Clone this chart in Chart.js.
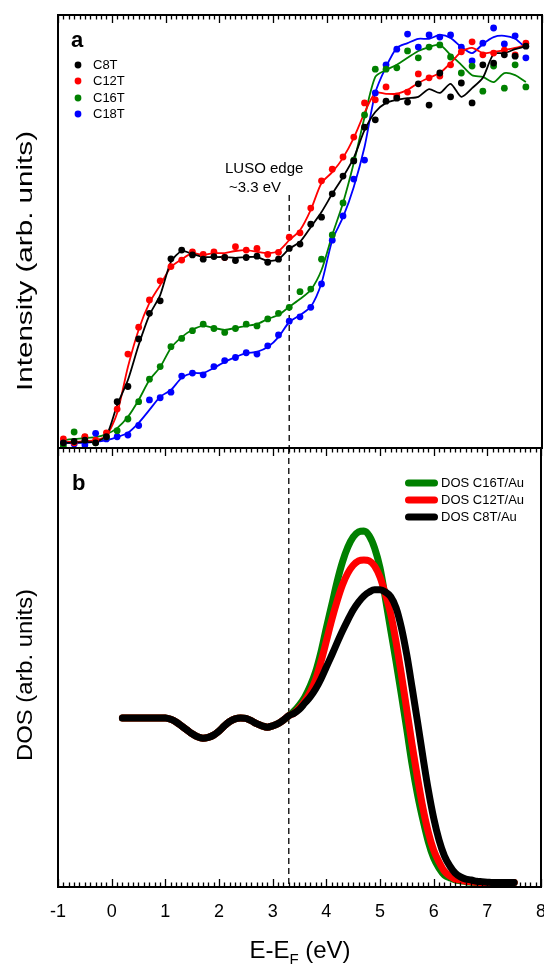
<!DOCTYPE html>
<html><head><meta charset="utf-8">
<script src="https://cdn.jsdelivr.net/npm/chart.js@4.4.1/dist/chart.umd.min.js"></script>
<style>
html,body{margin:0;padding:0;background:#fff;overflow:hidden;width:544px;height:964px;}
#wrap{position:relative;width:544px;height:964px;overflow:hidden;background:#fff;}
canvas{position:absolute;left:0;}
#ca{top:0;}
#cb{top:440px;}
</style></head><body>
<div id="wrap"><canvas id="ca" width="560" height="460"></canvas><canvas id="cb" width="560" height="524"></canvas></div>
<script>
// ---------------- DATA ----------------
// Panel a: photoemission intensity (arb. units, 0-100)
const energyA = [-0.9,-0.7,-0.5,-0.3,-0.1,0.1,0.3,0.5,0.7,0.9,1.1,1.3,1.5,1.7,1.9,2.1,2.3,2.5,2.7,2.9,3.1,3.3,3.5,3.7,3.9,4.1,4.3,4.5,4.7,4.9,5.1,5.3,5.5,5.7,5.9,6.1,6.3,6.5,6.7,6.9,7.1,7.3,7.5,7.7];
const c8Pts  = [1.2,1.5,1.8,1.2,2.6,10.7,14.2,25.2,31.1,34.0,43.7,45.7,44.6,43.6,44.2,44.0,43.3,44.0,44.3,42.9,43.6,46.1,47.1,51.7,53.3,58.7,62.8,66.3,74.1,75.8,80.1,80.8,79.9,84.1,79.2,86.6,81.1,84.3,79.7,88.5,88.9,90.8,90.5,92.8];
const c8Fit  = [1.2,1.2,1.4,1.4,2.8,9.9,15.7,23.8,30.7,35.3,43.0,45.5,44.8,44.1,44.1,44.1,43.9,44.1,44.1,43.2,43.6,46.0,47.6,51.0,54.5,58.7,62.6,67.0,73.4,77.6,79.7,80.4,80.8,81.1,82.9,82.0,84.1,81.1,83.1,85.5,91.0,91.2,92.1,92.8];
const c12Pts = [2.1,1.2,2.6,1.8,3.5,9.0,21.7,27.9,34.2,38.6,41.9,43.4,45.3,44.7,45.3,44.0,46.5,45.7,46.1,44.7,45.2,48.7,49.7,55.4,61.7,64.4,67.2,71.8,79.7,80.4,83.4,81.3,82.2,86.4,85.5,85.9,88.5,91.5,93.8,90.8,91.2,91.9,90.8,93.5];
const c12Fit = [1.4,1.4,1.6,1.8,2.8,8.1,18.7,27.3,33.5,37.6,41.8,43.6,45.0,44.6,45.0,45.0,45.5,45.7,45.3,45.0,45.5,48.0,50.3,55.0,61.2,63.7,67.0,71.6,77.4,82.0,81.8,81.8,82.7,84.3,85.5,86.6,88.9,91.5,92.4,91.2,91.5,91.9,92.4,93.1];
const c16Pts = [0.5,3.7,2.5,1.2,2.6,4.0,6.7,10.7,15.9,18.8,23.4,25.3,27.1,28.6,27.6,26.7,27.6,28.6,28.2,29.8,31.1,32.5,36.1,36.7,43.6,49.2,56.6,66.5,76.9,87.5,87.5,87.8,91.7,90.1,92.6,93.1,90.3,86.6,88.2,82.4,88.2,83.1,88.5,83.4];
const c16Fit = [1.8,2.1,2.3,2.5,3.2,4.6,7.2,11.1,15.7,18.7,23.1,25.6,27.3,28.2,27.7,27.3,27.7,28.2,28.6,29.8,30.7,32.6,34.4,36.5,41.1,49.2,56.6,65.8,76.4,85.7,87.3,88.5,90.1,91.7,92.6,93.1,90.8,88.5,86.1,85.7,84.5,86.6,86.1,84.5];
const c18Pts = [1.2,0.9,0.7,3.4,2.1,2.6,3.0,5.2,11.1,11.6,12.9,16.6,17.3,16.9,18.8,20.2,20.9,22.0,21.7,23.6,26.1,29.3,30.3,32.5,37.9,48.0,53.6,62.1,66.5,82.0,88.5,92.1,95.6,92.6,95.4,94.9,95.4,92.6,89.4,93.5,97.0,93.3,95.2,90.1];
const c18Fit = [1.2,1.2,1.2,1.4,1.8,2.5,3.5,5.8,8.8,11.8,13.4,16.2,17.3,17.3,18.5,19.9,21.0,21.9,22.2,23.3,25.6,29.1,30.7,32.6,38.1,48.0,53.3,60.3,69.5,82.0,88.0,92.4,93.5,94.5,94.5,95.4,94.7,92.6,91.2,93.3,94.9,95.2,94.5,92.4];
const seriesA = ['C8T','C12T','C16T','C18T'];

// Panel b: calculated DOS (arb. units, 0-100)
const energyB = [0.2,0.3,0.4,0.5,0.6,0.7,0.8,0.9,1.0,1.1,1.2,1.3,1.4,1.5,1.6,1.7,1.8,1.9,2.0,2.1,2.2,2.3,2.4,2.5,2.6,2.7,2.8,2.9,3.0,3.1,3.2,3.3,3.4,3.5,3.6,3.7,3.8,3.9,4.0,4.1,4.2,4.3,4.4,4.5,4.6,4.7,4.8,4.9,5.0,5.1,5.2,5.3,5.4,5.5,5.6,5.7,5.8,5.9,6.0,6.1,6.2,6.3,6.4,6.5,6.6,6.7,6.8,6.9,7.0,7.1,7.2,7.3,7.4,7.5];
const dosC16 = [38.5,38.5,38.5,38.5,38.5,38.5,38.5,38.5,38.5,38.2,37.6,36.7,35.8,34.9,34.2,33.9,34.1,34.6,35.5,36.7,37.7,38.3,38.5,38.4,37.9,37.2,36.7,36.4,36.7,37.2,38.0,39.0,
  40.1,41.5,43.3,45.8,49.0,53.5,59.0,64.2,69.5,74.0,77.4,79.7,80.9,81.1,80.0,77.2,72.7,65.8,58.5,51.3,43.7,35.8,27.8,21.0,15.3,10.3,6.6,4.3,2.7,2.1,1.6,
  1.4,1.2,1.1,1.0,1.0,1.0,1.0,1.0,1.0,1.0,1.0];
const dosC12 = [38.5,38.5,38.5,38.5,38.5,38.5,38.5,38.5,38.5,38.2,37.6,36.7,35.8,34.9,34.2,33.9,34.1,34.6,35.5,36.7,37.7,38.3,38.5,38.4,37.9,37.2,36.7,36.4,36.7,37.2,38.0,39.0,
  39.6,40.8,42.4,44.4,47.2,51.3,56.0,60.8,65.1,68.8,71.5,73.3,74.3,74.5,74.3,73.1,70.6,66.7,62.2,55.8,48.3,40.3,32.3,24.8,18.0,12.5,8.4,5.7,3.6,2.5,1.8,1.6,
  1.3,1.2,1.1,1.0,1.0,1.0,1.0,1.0,1.0,1.0];
const dosC8  = [38.5,38.5,38.5,38.5,38.5,38.5,38.5,38.5,38.5,38.2,37.6,36.7,35.8,34.9,34.2,33.9,34.1,34.6,35.5,36.7,37.7,38.3,38.5,38.4,37.9,37.2,36.7,36.4,36.7,37.2,38.0,39.0,
  39.6,40.5,41.9,43.3,45.1,47.4,50.1,52.8,55.6,58.3,60.8,63.1,64.9,66.3,67.2,67.7,67.7,67.2,66.1,63.6,59.0,52.8,45.3,37.6,29.6,22.1,15.7,10.7,7.1,4.8,3.2,2.3,1.8,1.6,
  1.3,1.2,1.1,1.0,1.0,1.0,1.0,1.0];
const seriesB = ['DOS C16T/Au','DOS C12T/Au','DOS C8T/Au'];

const xTickLabels = ['-1','0','1','2','3','4','5','6','7','8'];
const lusoEdge = 3.3;
const lusoText = ['LUSO edge','~3.3 eV'];

// ---------------- STYLE ----------------
const FONT = "'Liberation Sans', Arial, Helvetica, sans-serif";
const BLACK = '#000000', RED = '#ff0000', GREEN = '#008000', BLUE = '#0000ff';
const XMIN = -1, XMAX = 8;

function pairs(xs, ys){ return xs.map((x,i)=>({x:x, y:ys[i]})); }

function drawTicks(ctx, chart, y, dir){
  const xs = chart.scales.x;
  ctx.save();
  ctx.strokeStyle = '#000'; ctx.lineWidth = 1.3;
  ctx.beginPath();
  for (let i = 0; i <= 90; i++){
    const v = XMIN + i/10;
    const px = Math.round(xs.getPixelForValue(v)) + 0.5;
    const len = (i % 10 === 0) ? 8 : 4.5;
    ctx.moveTo(px, y); ctx.lineTo(px, y + dir*len);
  }
  ctx.stroke();
  ctx.restore();
}
function drawFrame(ctx, a){
  ctx.save();
  ctx.strokeStyle = '#000'; ctx.lineWidth = 2;
  ctx.strokeRect(a.left, a.top, a.right - a.left, a.bottom - a.top);
  ctx.restore();
}
function drawDash(ctx, chart, y0, y1){
  const px = chart.scales.x.getPixelForValue(lusoEdge);
  ctx.save();
  ctx.strokeStyle = '#222'; ctx.lineWidth = 1.5; ctx.setLineDash([6,4]);
  ctx.beginPath(); ctx.moveTo(px, y0); ctx.lineTo(px, y1); ctx.stroke();
  ctx.restore();
}
function yTitle(ctx, text, x, y, len){
  ctx.save();
  ctx.font = '22px ' + FONT; ctx.fillStyle = '#000';
  const w = ctx.measureText(text).width;
  ctx.translate(x, y); ctx.rotate(-Math.PI/2); ctx.scale(len / w, 1);
  ctx.textAlign = 'center'; ctx.textBaseline = 'alphabetic';
  ctx.fillText(text, 0, 0);
  ctx.restore();
}

// ---------------- PANEL A ----------------
const colorsA = [BLACK, RED, GREEN, BLUE];
const ptsA = [c8Pts, c12Pts, c16Pts, c18Pts];
const fitA = [c8Fit, c12Fit, c16Fit, c18Fit];
const dsA = [];
for (let s = 0; s < 4; s++){
  dsA.push({label: seriesA[s], data: pairs(energyA, ptsA[s]), showLine: false,
    pointRadius: 3.4, pointBackgroundColor: colorsA[s], pointBorderWidth: 0, borderColor: colorsA[s]});
}
for (let s = 0; s < 4; s++){
  dsA.push({label: seriesA[s] + ' fit', data: pairs(energyA, fitA[s]), showLine: true, tension: 0.25,
    pointRadius: 0, borderColor: colorsA[s], borderWidth: 1.8, fill: false});
}

const pluginA = {
  id: 'panelA',
  beforeDatasetsDraw(chart){
    drawDash(chart.ctx, chart, 195, chart.chartArea.bottom);
  },
  afterDraw(chart){
    const ctx = chart.ctx, a = chart.chartArea;
    drawFrame(ctx, a);
    drawTicks(ctx, chart, a.top, 1);
    ctx.save();
    ctx.fillStyle = '#000';
    ctx.font = 'bold 22px ' + FONT; ctx.textBaseline = 'alphabetic'; ctx.textAlign = 'left';
    ctx.fillText('a', 71, 47);
    // legend
    ctx.font = '13px ' + FONT; ctx.textBaseline = 'middle';
    const ly = [65, 81, 98, 114];
    for (let s = 0; s < 4; s++){
      ctx.fillStyle = colorsA[s];
      ctx.beginPath(); ctx.arc(78, ly[s], 3.4, 0, Math.PI*2); ctx.fill();
      ctx.fillStyle = '#000';
      ctx.fillText(seriesA[s], 93, ly[s] + 0.5);
    }
    // annotation
    ctx.font = '15px ' + FONT;
    ctx.fillText(lusoText[0], 225, 169);
    ctx.fillText(lusoText[1], 229, 188);
    ctx.restore();
    yTitle(ctx, 'Intensity (arb. units)', 32, 261, 260);
  }
};

new Chart(document.getElementById('ca'), {
  type: 'scatter',
  data: {datasets: dsA},
  options: {
    responsive: false, animation: false, events: [],
    layout: {padding: {left: 58, right: 18, top: 15, bottom: 12}},
    plugins: {legend: {display: false}, tooltip: {enabled: false}},
    scales: {
      x: {type: 'linear', min: XMIN, max: XMAX, display: false},
      y: {type: 'linear', min: 0, max: 100, display: false}
    }
  },
  plugins: [pluginA]
});

// ---------------- PANEL B ----------------
const colorsB = [GREEN, RED, BLACK];
const dataB = [dosC16, dosC12, dosC8];
const dsB = [];
// black first so it is drawn on top
for (let s = 2; s >= 0; s--){
  dsB.push({label: seriesB[s], data: pairs(energyB, dataB[s]), showLine: true,
    cubicInterpolationMode: 'monotone', pointRadius: 0, borderColor: colorsB[s], borderWidth: 7,
    borderCapStyle: 'round', borderJoinStyle: 'round', fill: false});
}

const pluginB = {
  id: 'panelB',
  beforeDatasetsDraw(chart){
    drawDash(chart.ctx, chart, chart.chartArea.top, chart.chartArea.bottom);
  },
  afterDraw(chart){
    const ctx = chart.ctx, a = chart.chartArea;
    drawFrame(ctx, a);
    drawTicks(ctx, chart, a.top, 1);
    drawTicks(ctx, chart, a.bottom, -1);
    ctx.save();
    ctx.fillStyle = '#000';
    ctx.font = 'bold 22px ' + FONT; ctx.textBaseline = 'alphabetic'; ctx.textAlign = 'left';
    ctx.fillText('b', 72, 50);
    // legend
    const ly = [43, 60, 77];
    ctx.font = '13px ' + FONT; ctx.textBaseline = 'middle';
    for (let s = 0; s < 3; s++){
      ctx.strokeStyle = colorsB[s]; ctx.lineWidth = 7; ctx.lineCap = 'round';
      ctx.beginPath(); ctx.moveTo(408.5, ly[s]); ctx.lineTo(434.5, ly[s]); ctx.stroke();
      ctx.fillStyle = '#000';
      ctx.fillText(seriesB[s], 441, ly[s] + 0.5);
    }
    // x title with subscript
    const p1 = 'E-E', sub = 'F', p2 = ' (eV)';
    ctx.textBaseline = 'alphabetic';
    ctx.font = '24px ' + FONT; const w1 = ctx.measureText(p1).width, w3 = ctx.measureText(p2).width;
    ctx.font = '15px ' + FONT; const w2 = ctx.measureText(sub).width;
    let x = 300 - (w1 + w2 + w3) / 2;
    const base = 518;
    ctx.font = '24px ' + FONT; ctx.fillText(p1, x, base); x += w1;
    ctx.font = '15px ' + FONT; ctx.fillText(sub, x, base + 6); x += w2;
    ctx.font = '24px ' + FONT; ctx.fillText(p2, x, base);
    ctx.restore();
    yTitle(ctx, 'DOS (arb. units)', 32, 235, 172);
  }
};

new Chart(document.getElementById('cb'), {
  type: 'scatter',
  data: {datasets: dsB},
  options: {
    responsive: false, animation: false, events: [],
    layout: {padding: {left: 58, right: 18, top: 8, bottom: 0}},
    plugins: {legend: {display: false}, tooltip: {enabled: false}},
    scales: {
      x: {type: 'linear', min: XMIN, max: XMAX, position: 'bottom',
          afterFit(s){ s.height = 77; },
          grid: {display: false, drawTicks: false}, border: {display: false},
          ticks: {stepSize: 1, padding: 14, color: '#000', font: {family: FONT, size: 18},
                  callback: (v) => { const i = Math.round(v - XMIN); return (Math.abs(v - Math.round(v)) < 1e-6 && xTickLabels[i] !== undefined) ? xTickLabels[i] : ''; }}},
      y: {type: 'linear', min: 0, max: 100, display: false}
    }
  },
  plugins: [pluginB]
});
</script>
</body></html>
